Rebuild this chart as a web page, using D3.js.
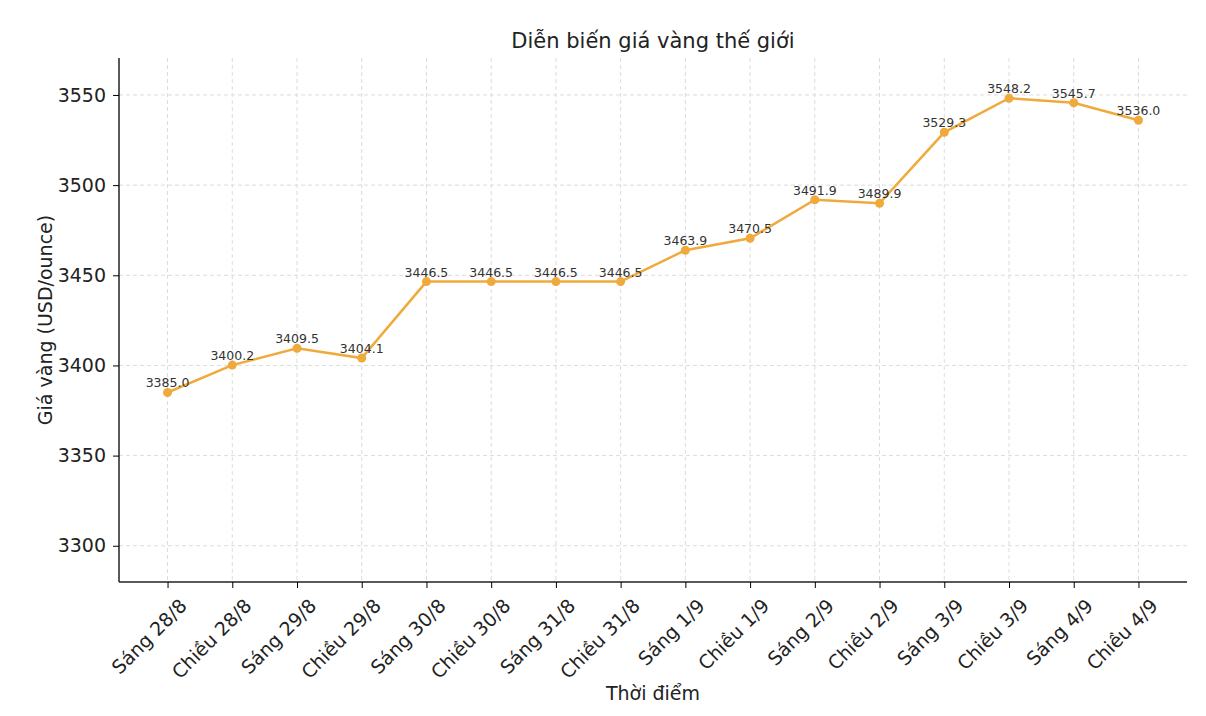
<!DOCTYPE html>
<html><head><meta charset="utf-8">
<script src="https://cdn.jsdelivr.net/npm/d3@7"></script>
<style>body{margin:0;background:#fff;font-family:"DejaVu Sans",sans-serif;}</style>
</head><body><svg id="c" width="1206" height="716"></svg>
<script>
const categories=["Sáng 28/8","Chiều 28/8","Sáng 29/8","Chiều 29/8","Sáng 30/8","Chiều 30/8","Sáng 31/8","Chiều 31/8","Sáng 1/9","Chiều 1/9","Sáng 2/9","Chiều 2/9","Sáng 3/9","Chiều 3/9","Sáng 4/9","Chiều 4/9"];
const prices=[3385.0,3400.2,3409.5,3404.1,3446.5,3446.5,3446.5,3446.5,3463.9,3470.5,3491.9,3489.9,3529.3,3548.2,3545.7,3536.0];
const yTicks=[3300,3350,3400,3450,3500,3550];
const title="Diễn biến giá vàng thế giới", xLabel="Thời điểm", yLabel="Giá vàng (USD/ounce)";
const color="#f0aa3c";
const svg=d3.select("#c");
const L=119,R=1187,T=58,B=582;
const x=d3.scalePoint().domain(categories).range([L,R]).padding(0.75);
const y=d3.scaleLinear().domain([3279.9,3570.5]).range([B,T]);
svg.append("g").selectAll("line").data(yTicks).join("line")
 .attr("x1",L).attr("x2",R).attr("y1",d=>y(d)).attr("y2",d=>y(d))
 .attr("stroke","#dcdcdc").attr("stroke-dasharray","4,3");
svg.append("g").selectAll("line").data(categories).join("line")
 .attr("x1",d=>x(d)).attr("x2",d=>x(d)).attr("y1",T).attr("y2",B)
 .attr("stroke","#dcdcdc").attr("stroke-dasharray","4,3");
const ya=svg.append("g").attr("transform",`translate(${L},0)`).call(d3.axisLeft(y).tickValues(yTicks).tickFormat(d3.format("d")).tickSize(6).tickPadding(7));
ya.select(".domain").attr("d",`M0,${T}V${B}`).attr("stroke","#222").attr("stroke-width",1.5);
ya.selectAll("text").attr("font-size",19).attr("font-family","DejaVu Sans").attr("fill","#222");
const xa=svg.append("g").attr("transform",`translate(0,${B})`).call(d3.axisBottom(x).tickSize(6));
xa.select(".domain").attr("d",`M${L},0H${R}`).attr("stroke","#222").attr("stroke-width",1.5);
xa.selectAll("text").attr("font-size",19).attr("font-family","DejaVu Sans").attr("fill","#222")
 .attr("text-anchor","end").attr("dy","0.35em").attr("transform","translate(9,14) rotate(-45)");
svg.append("path").datum(prices).attr("fill","none").attr("stroke",color).attr("stroke-width",2.5)
 .attr("d",d3.line().x((d,i)=>x(categories[i])).y(d=>y(d)));
svg.append("g").selectAll("circle").data(prices).join("circle")
 .attr("cx",(d,i)=>x(categories[i])).attr("cy",d=>y(d)).attr("r",4.5).attr("fill",color);
svg.append("g").selectAll("text").data(prices).join("text")
 .attr("x",(d,i)=>x(categories[i])).attr("y",d=>y(d)-5).attr("text-anchor","middle")
 .attr("font-size",12.5).attr("fill","#333").text(d=>d.toFixed(1));
svg.append("text").attr("x",(L+R)/2).attr("y",48).attr("text-anchor","middle").attr("font-size",21).attr("fill","#222").text(title);
svg.append("text").attr("x",(L+R)/2).attr("y",700).attr("text-anchor","middle").attr("font-size",19).attr("fill","#222").text(xLabel);
svg.append("text").attr("transform",`translate(52,${(T+B)/2}) rotate(-90)`).attr("text-anchor","middle").attr("font-size",19).attr("fill","#222").text(yLabel);
</script></body></html>
